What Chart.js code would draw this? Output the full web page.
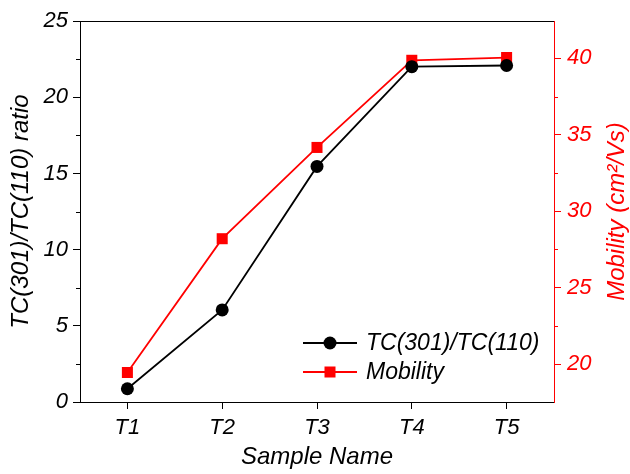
<!DOCTYPE html>
<html>
<head>
<meta charset="utf-8">
<script src="https://cdn.jsdelivr.net/npm/chart.js@4"></script>
<style>
  html, body { margin: 0; padding: 0; background: #fff; }
  #wrap { width: 630px; height: 474px; }
</style>
</head>
<body>
<div id="wrap"><canvas id="chart" width="630" height="474"></canvas></div>
<script>
// Data
const samples = ['T1', 'T2', 'T3', 'T4', 'T5'];
const tcRatio = [0.87, 6.04, 15.46, 22.0, 22.08];
const mobility = [19.45, 28.2, 34.17, 39.87, 40.05];
const leftTicks = [0, 5, 10, 15, 20, 25];
const leftMinor = [2.5, 7.5, 12.5, 17.5, 22.5];
const rightTicks = [20, 25, 30, 35, 40];
const rightMinor = [22.5, 27.5, 32.5, 37.5];
const rightTitle = 'Mobility (cm²/Vs)';

const FONT = "'Liberation Sans', Arial, sans-serif";
const RED = '#ff0000';

// top frame line, minor ticks, right title (reads upward) and the legend
const extras = {
    id: 'extras',
    afterDraw(chart) {
        const ctx = chart.ctx;
        const area = chart.chartArea;
        const yL = chart.scales.y;
        const yR = chart.scales.y2;
        ctx.save();
        ctx.lineWidth = 1;

        ctx.strokeStyle = '#000';
        ctx.beginPath();
        ctx.moveTo(area.left, Math.round(area.top) + 0.5);
        ctx.lineTo(area.right, Math.round(area.top) + 0.5);
        ctx.stroke();

        leftMinor.forEach(v => {
            const y = Math.round(yL.getPixelForValue(v)) + 0.5;
            ctx.beginPath();
            ctx.moveTo(area.left - 4, y);
            ctx.lineTo(area.left, y);
            ctx.stroke();
        });
        ctx.strokeStyle = RED;
        rightMinor.forEach(v => {
            const y = Math.round(yR.getPixelForValue(v)) + 0.5;
            ctx.beginPath();
            ctx.moveTo(area.right, y);
            ctx.lineTo(area.right + 4, y);
            ctx.stroke();
        });

        // right axis title, rotated like the left one
        ctx.save();
        ctx.translate(617, (area.top + area.bottom) / 2);
        ctx.rotate(-Math.PI / 2);
        ctx.font = 'italic 24px ' + FONT;
        ctx.fillStyle = RED;
        ctx.textAlign = 'center';
        ctx.textBaseline = 'middle';
        ctx.fillText(rightTitle, 0, 0);
        ctx.restore();

        // legend
        const rows = [343, 372];
        ctx.font = 'italic 23px ' + FONT;
        ctx.textBaseline = 'middle';
        ctx.textAlign = 'left';
        chart.data.datasets.forEach((ds, i) => {
            const y = rows[i];
            ctx.strokeStyle = ds.borderColor;
            ctx.lineWidth = ds.borderWidth;
            ctx.beginPath();
            ctx.moveTo(303, y);
            ctx.lineTo(357, y);
            ctx.stroke();
            ctx.fillStyle = ds.backgroundColor;
            if (ds.pointStyle === 'rect') {
                ctx.fillRect(330 - 5.5, y - 5.5, 11, 11);
            } else {
                ctx.beginPath();
                ctx.arc(330, y, 6.5, 0, Math.PI * 2);
                ctx.fill();
            }
            ctx.fillStyle = '#000';
            ctx.fillText(ds.label, 366, y + 1);
        });
        ctx.restore();
    }
};

new Chart(document.getElementById('chart'), {
    type: 'line',
    data: {
        labels: samples,
        datasets: [
            {
                label: 'TC(301)/TC(110)',
                data: tcRatio,
                yAxisID: 'y',
                borderColor: '#000',
                backgroundColor: '#000',
                borderWidth: 1.8,
                pointStyle: 'circle',
                pointRadius: 6.5,
                pointBorderWidth: 0,
                clip: false
            },
            {
                label: 'Mobility',
                data: mobility,
                yAxisID: 'y2',
                borderColor: RED,
                backgroundColor: RED,
                borderWidth: 1.8,
                pointStyle: 'rect',
                pointRadius: 7.8,
                pointBorderWidth: 0,
                clip: false
            }
        ]
    },
    options: {
        responsive: false,
        animation: false,
        events: [],
        layout: { padding: { top: 21, left: 0, right: 0, bottom: 0 } },
        plugins: { legend: { display: false }, tooltip: { enabled: false } },
        scales: {
            x: {
                type: 'category',
                offset: true,
                afterFit: s => { s.height = 72; },
                grid: { drawOnChartArea: false, drawTicks: true, tickLength: 7, tickColor: '#000', offset: false },
                border: { display: true, color: '#000', width: 1 },
                ticks: { color: '#000', padding: 6, font: { family: FONT, size: 22, style: 'italic' }, maxRotation: 0 },
                title: { display: true, text: 'Sample Name', color: '#000', padding: { top: 0, bottom: 2 },
                         font: { family: FONT, size: 24, style: 'italic' } }
            },
            y: {
                position: 'left',
                min: 0,
                max: 25,
                afterFit: s => { s.width = 80; },
                afterBuildTicks: s => { s.ticks = leftTicks.map(v => ({ value: v })); },
                grid: { drawOnChartArea: false, drawTicks: true, tickLength: 7, tickColor: '#000' },
                border: { display: true, color: '#000', width: 1 },
                ticks: { color: '#000', padding: 5, font: { family: FONT, size: 22, style: 'italic' } },
                title: { display: true, text: 'TC(301)/TC(110) ratio', color: '#000', padding: { top: 7, bottom: 0 },
                         font: { family: FONT, size: 24, style: 'italic' } }
            },
            y2: {
                position: 'right',
                min: 17.52,
                max: 42.44,
                afterFit: s => { s.width = 76; },
                afterBuildTicks: s => { s.ticks = rightTicks.map(v => ({ value: v })); },
                grid: { drawOnChartArea: false, drawTicks: true, tickLength: 7, tickColor: RED },
                border: { display: true, color: RED, width: 1 },
                ticks: { color: RED, padding: 6, font: { family: FONT, size: 22, style: 'italic' } },
                title: { display: false }
            }
        }
    },
    plugins: [extras]
});
</script>
</body>
</html>
